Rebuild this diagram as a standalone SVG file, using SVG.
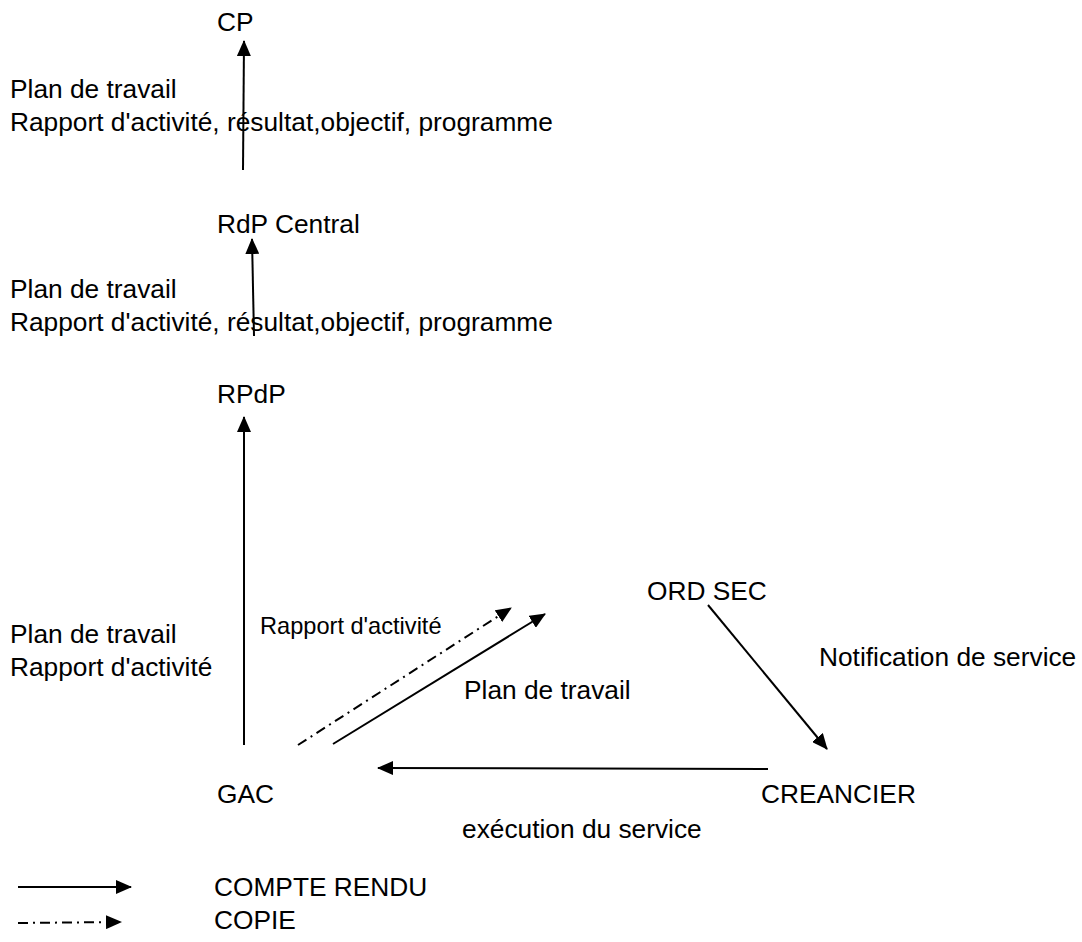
<svg xmlns="http://www.w3.org/2000/svg" width="1082" height="942" viewBox="0 0 1082 942">
<style>
text{font-family:"Liberation Sans",Arial,sans-serif;font-size:26.3px;fill:#000}
.sm{font-size:23.6px}
.c{stroke:#000;stroke-width:2;fill:none}
.dd{stroke-dasharray:10,5,2,5}
</style>
<defs>
<marker id="ah" markerWidth="16" markerHeight="14" refX="15" refY="7" orient="auto" markerUnits="userSpaceOnUse">
<path d="M0,0 L16,7 L0,14 Z" fill="#000"/>
</marker>
</defs>
<rect width="1082" height="942" fill="#fff"/>
<g id="connectors">
<line class="c" x1="243" y1="170" x2="244" y2="41" marker-end="url(#ah)"/>
<line class="c" x1="254" y1="336" x2="252" y2="239" marker-end="url(#ah)"/>
<line class="c" x1="244" y1="745" x2="244" y2="417" marker-end="url(#ah)"/>
<line class="c dd" x1="298" y1="745" x2="511" y2="608" marker-end="url(#ah)"/>
<line class="c" x1="333" y1="744" x2="545" y2="614" marker-end="url(#ah)"/>
<line class="c" x1="708" y1="605" x2="827" y2="749" marker-end="url(#ah)"/>
<line class="c" x1="768" y1="769" x2="378" y2="768" marker-end="url(#ah)"/>
</g>
<g id="CP"><text x="217" y="31">CP</text></g>
<g id="RdPCentral"><text x="217" y="233">RdP Central</text></g>
<g id="RPdP"><text x="217" y="403">RPdP</text></g>
<g id="GAC"><text x="217" y="803">GAC</text></g>
<g id="ORDSEC"><text x="647" y="600">ORD SEC</text></g>
<g id="CREANCIER"><text x="761" y="803">CREANCIER</text></g>
<g id="labels">
<text x="10" y="98">Plan de travail</text>
<text x="10" y="131">Rapport d'activité, résultat,objectif, programme</text>
<text x="10" y="298">Plan de travail</text>
<text x="10" y="331">Rapport d'activité, résultat,objectif, programme</text>
<text x="10" y="643">Plan de travail</text>
<text x="10" y="676">Rapport d'activité</text>
<text class="sm" x="260" y="634">Rapport d'activité</text>
<text x="464" y="699">Plan de travail</text>
<text x="819" y="666">Notification de service</text>
<text x="462" y="838">exécution du service</text>
</g>
<g id="legend">
<line class="c" x1="18" y1="887" x2="131" y2="887" marker-end="url(#ah)"/>
<line class="c dd" x1="18" y1="923" x2="121" y2="922" marker-end="url(#ah)"/>
<text x="214" y="896">COMPTE RENDU</text>
<text x="214" y="929">COPIE</text>
</g>
</svg>
